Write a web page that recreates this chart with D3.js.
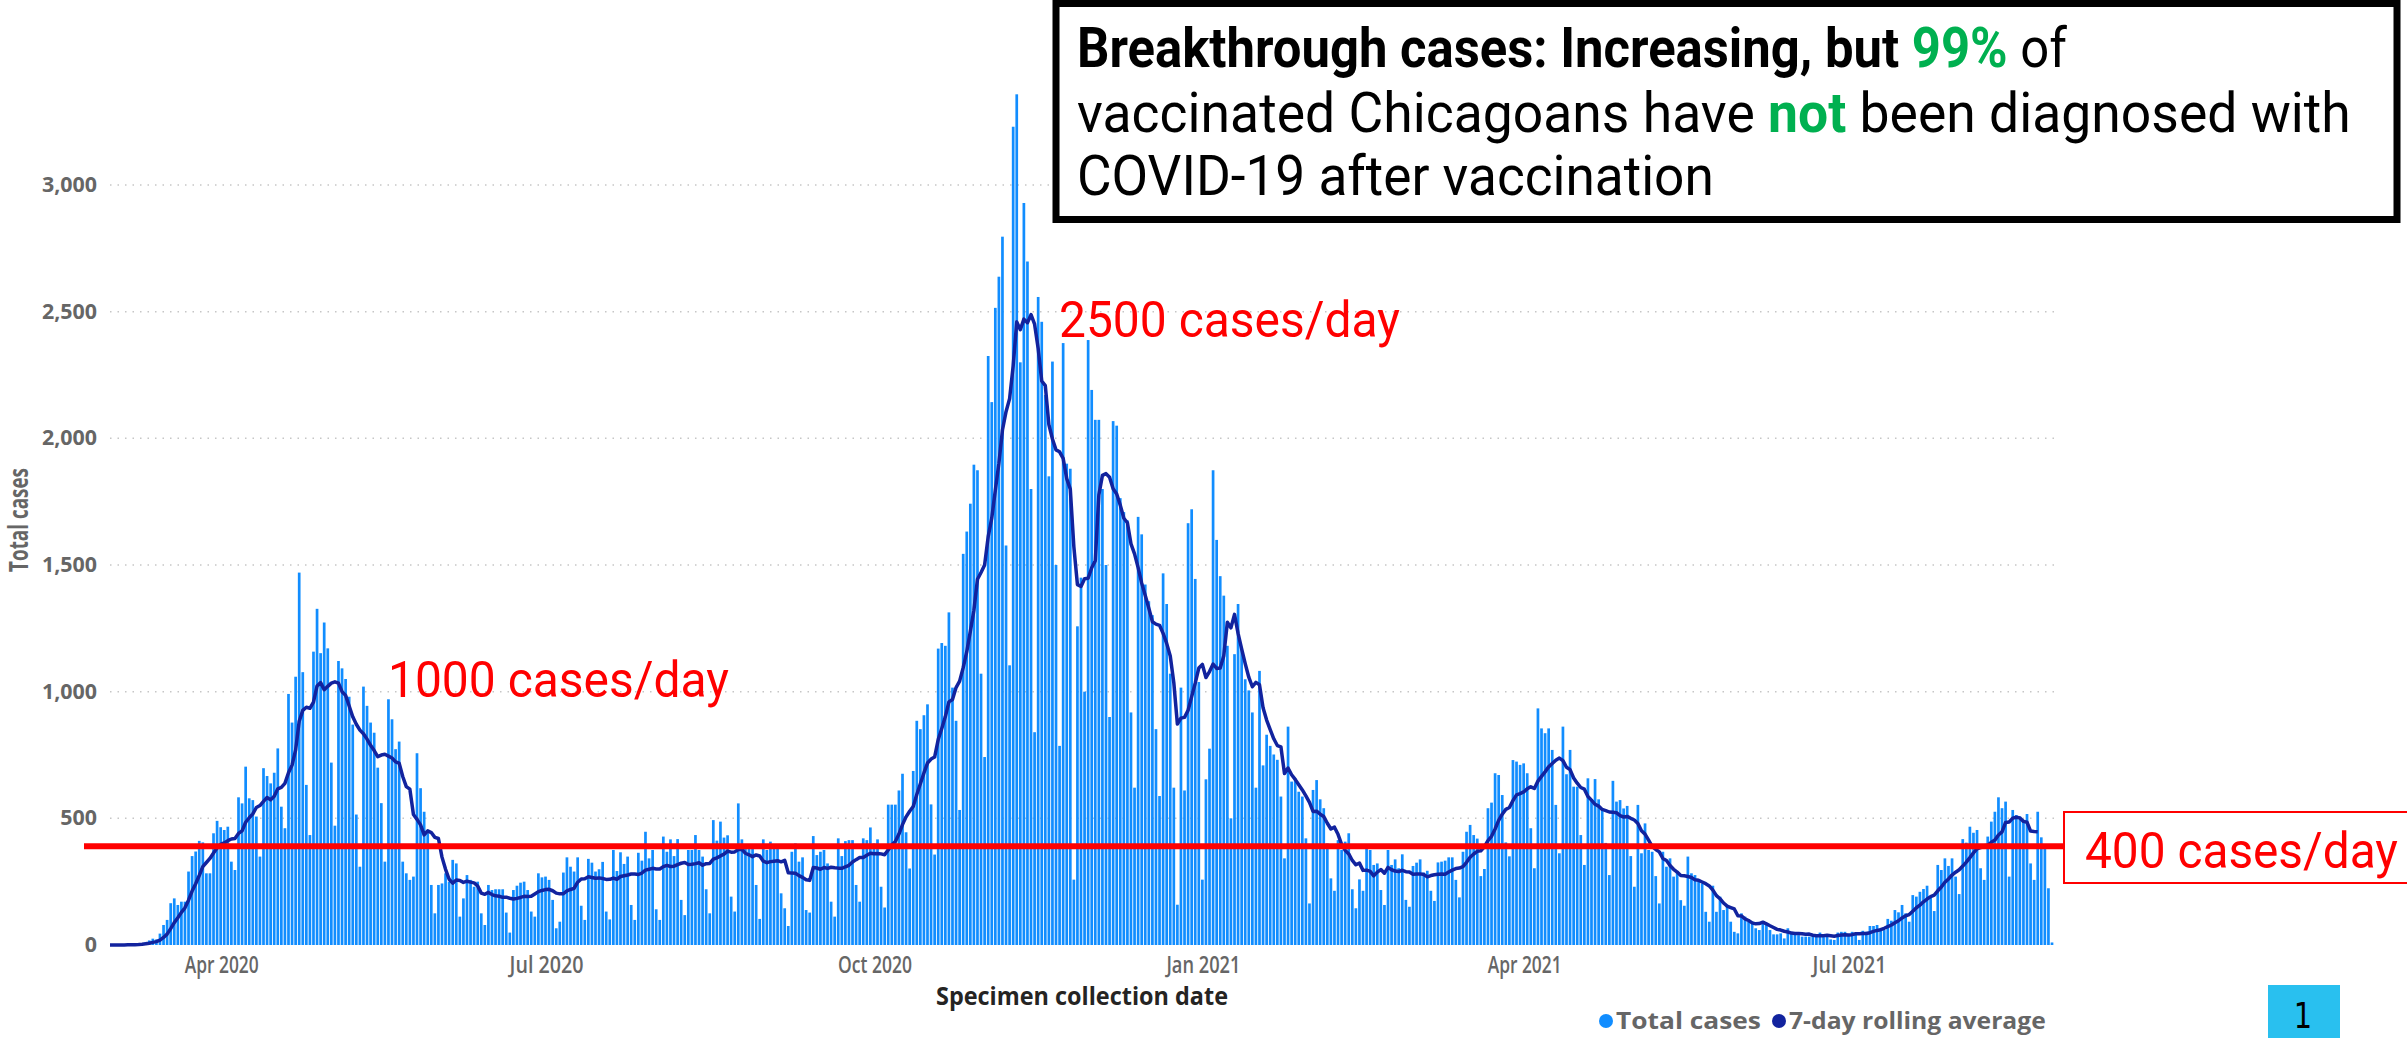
<!DOCTYPE html>
<html>
<head>
<meta charset="utf-8">
<script src="https://cdn.jsdelivr.net/npm/d3@7"></script>
<style>
  body { margin: 0; background: #fff; }
  svg { display: block; }
</style>
</head>
<body>
<svg id="chart" width="2407" height="1038"></svg>
<script>
// daily specimen counts, one row per week (Sun..Sat), first day 2020-03-01
const startDate = "2020-03-01"
const cases2020 = [
  0,0,0,1,1,2,2,
  3,5,8,12,18,25,22,
  45,79,99,165,184,158,171,
  171,290,351,369,411,405,283,
  283,441,490,465,454,467,329,
  296,583,559,704,579,572,507,
  349,698,667,638,680,776,546,
  461,991,878,1059,1470,1077,632,
  434,1158,1327,1152,1273,1171,720,
  471,1121,1092,1050,980,870,515,
  309,1020,944,878,838,700,560,
  329,970,891,773,803,329,283,
  257,270,757,619,526,441,237,
  125,237,243,283,250,336,322,
  112,184,276,257,230,250,125,
  79,237,217,220,220,220,128,
  49,217,234,246,250,217,132,
  112,283,267,270,257,178,66,
  92,286,346,309,290,346,155,
  99,340,325,290,299,328,132,
  101,375,292,366,320,349,158,
  99,364,333,447,342,375,141,
  99,428,368,417,351,418,178,
  118,375,375,434,375,349,220,
  125,493,412,487,424,433,191,
  132,559,417,379,382,382,237,
  103,417,375,408,395,395,204,
  145,75,368,401,329,346,138,
  128,430,355,368,375,322,171,
  112,421,351,410,414,414,237,
  171,421,414,464,401,417,230,
  148,554,554,554,610,676,445,
  302,687,885,852,907,950,555,
  357,1170,1192,1181,1313,1016,885,
  533,1544,1632,1742,1896,1874,1071,
  742,2325,2143,2515,2638,2796,1577,
  1104,3230,3358,2300,2929,2698,1800,
  840,2558,2460,2171,1850,2303,1500,
  786,2376,1900,1880,258,1258,1450,
  1000,2388,2191,2073,2073,1800,1500,
  900,2068,2050,1764,1709,1676,918,
  621,1690,1621,1423,1357,1302,852,
  588,1467,1346,1071,621,159,1016,
  610,1665,1720,1445,1038
]
const cases2021 = [
  258,654,
  775,1874,1599,1456,1379,1181,500,
  1148,1346,1170,1049,1005,918,621,
  1082,709,830,786,752,731,586,
  342,862,645,658,605,586,421,
  164,612,651,575,540,401,263,
  214,414,375,408,441,220,145,
  259,214,382,375,316,322,217,
  158,375,316,338,303,358,178,
  151,312,325,338,286,293,214,
  174,326,329,333,346,346,257,
  188,368,447,474,434,420,272,
  300,540,562,678,671,592,405,
  350,730,724,711,717,678,461,
  303,934,855,836,855,770,553,
  362,862,674,770,625,625,434,
  316,658,575,655,575,533,403,
  276,648,566,572,539,549,351,
  230,553,362,480,375,368,272,
  164,368,309,342,270,290,177,
  155,349,283,276,257,243,131,
  92,234,131,191,138,158,92,
  52,46,125,112,92,92,66,
  59,85,79,59,42,42,46,
  26,66,49,49,39,33,33,
  33,33,35,49,43,42,22,
  20,49,52,52,39,52,46,
  20,56,52,75,75,79,66,
  59,103,96,138,129,158,125,
  92,197,191,210,221,234,191,
  134,316,296,342,312,342,270,
  201,418,404,467,443,454,303,
  257,428,487,526,583,540,566,
  270,533,513,507,487,517,322,
  257,526,425,395,224,10
]
const rollingLastDate = "2021-08-23"
const yTicks = [0, 500, 1000, 1500, 2000, 2500, 3000]
const xTickDates = ["2020-04-01", "2020-07-01", "2020-10-01", "2021-01-01", "2021-04-01", "2021-07-01"]
const legendLabels = ["Total cases", "7-day rolling average"]
const thresholdValue = 390
const calloutLabels = ["1000 cases/day", "2500 cases/day", "400 cases/day"]
const boxLines = [
  [["Breakthrough cases: Increasing, but ", 700, "#000"], ["99%", 700, "#00B050"], [" of", 400, "#000"]],
  [["vaccinated Chicagoans have ", 400, "#000"], ["not", 700, "#00B050"], [" been diagnosed with", 400, "#000"]],
  [["COVID-19 after vaccination", 400, "#000"]]
]
const pageNumber = "1"

const barColor = "#118DFF"
const lineColor = "#12239E"
const axisGray = "#666666"

const svg = d3.select("#chart")
const parse = d3.utcParse("%Y-%m-%d")
const t0 = parse(startDate)
const allCases = cases2020.concat(cases2021)
const days = allCases.map((v, i) => ({ date: d3.utcDay.offset(t0, i), value: v }))

const lastRolling = d3.utcDay.count(t0, parse(rollingLastDate))
const rolling = days.slice(0, lastRolling + 1).map((d, i) => ({
  date: d.date,
  value: d3.mean(allCases.slice(Math.max(0, i - 6), i + 1))
}))

const x = d3.scaleUtc()
  .domain([t0, days[days.length - 1].date])
  .range([110, 2052])
const y = d3.scaleLinear()
  .domain([0, 3000])
  .range([945, 185])

// text helper: squeeze/stretch to a measured width (or a fixed factor)
function addText(parent, parts, o) {
  const t = parent.append("text")
    .attr("text-anchor", o.anchor || "start")
    .style("font-family", o.font)
    .style("font-size", o.size + "px")
    .style("font-weight", o.weight || 400)
    .attr("fill", o.fill || "#000")
  if (typeof parts === "string") {
    t.text(parts)
  } else {
    parts.forEach(p => t.append("tspan").text(p[0]).style("font-weight", p[1]).attr("fill", p[2]))
  }
  const w = t.node().getComputedTextLength()
  const s = o.width ? o.width / w : (o.sx || 1)
  t.attr("transform", "translate(" + o.x + "," + o.y + ")" + (o.rotate ? " rotate(" + o.rotate + ")" : "") + " scale(" + s + ",1)")
  return t
}

// gridlines
svg.append("g")
  .selectAll("line")
  .data(yTicks.filter(d => d > 0))
  .enter().append("line")
  .attr("x1", 110).attr("x2", 2055)
  .attr("y1", d => y(d)).attr("y2", d => y(d))
  .attr("stroke", "#c6c6c6")
  .attr("stroke-width", 1.5)
  .attr("stroke-dasharray", "1.5,6")

// y tick labels
const yg = svg.append("g")
yTicks.forEach(v => {
  addText(yg, d3.format(",")(v), { x: 97, y: y(v) + 7, anchor: "end", font: "'Open Sans'", size: 21, weight: 700, fill: axisGray, sx: 1.02 })
})

// x tick labels
const fmt = d3.utcFormat("%b %Y")
xTickDates.forEach(s => {
  addText(svg, fmt(parse(s)), { x: x(parse(s)) + 1, y: 973, anchor: "middle", font: "'Open Sans'", size: 24, weight: 600, fill: axisGray, width: 74 })
})

// bars
svg.append("g")
  .selectAll("rect")
  .data(days)
  .enter().append("rect")
  .attr("x", d => x(d.date) - 1.35)
  .attr("width", 2.7)
  .attr("y", d => y(d.value))
  .attr("height", d => y(0) - y(d.value))
  .attr("fill", barColor)

// rolling average
svg.append("path")
  .datum(rolling)
  .attr("fill", "none")
  .attr("stroke", lineColor)
  .attr("stroke-width", 3.5)
  .attr("stroke-linejoin", "round")
  .attr("d", d3.line().x(d => x(d.date)).y(d => y(d.value)))

// axis titles
addText(svg, "Total cases", { x: 28, y: 520, rotate: -90, anchor: "middle", font: "'Open Sans'", size: 26, weight: 700, fill: axisGray, width: 104 })
addText(svg, "Specimen collection date", { x: 1082, y: 1005, anchor: "middle", font: "'Open Sans'", size: 25, weight: 700, fill: "#252423", width: 292 })

// legend
const lg = svg.append("g")
lg.append("circle").attr("cx", 1606).attr("cy", 1021).attr("r", 7).attr("fill", barColor)
addText(lg, legendLabels[0], { x: 1616, y: 1029, font: "'Open Sans'", size: 24, weight: 700, fill: axisGray, width: 145 })
lg.append("circle").attr("cx", 1779).attr("cy", 1021).attr("r", 7).attr("fill", lineColor)
addText(lg, legendLabels[1], { x: 1789, y: 1029, font: "'Open Sans'", size: 24, weight: 700, fill: axisGray, width: 257 })

// threshold line and callouts
svg.append("line")
  .attr("x1", 84).attr("x2", 2064)
  .attr("y1", y(thresholdValue)).attr("y2", y(thresholdValue))
  .attr("stroke", "#FF0000").attr("stroke-width", 6)
svg.append("rect")
  .attr("x", 2064).attr("y", 812).attr("width", 360).attr("height", 71)
  .attr("fill", "#fff").attr("stroke", "#FF0000").attr("stroke-width", 2)
addText(svg, calloutLabels[2], { x: 2085, y: 868, font: "Roboto", size: 50, fill: "#FF0000", width: 313 })
addText(svg, calloutLabels[0], { x: 388, y: 697, font: "Roboto", size: 50, fill: "#FF0000", width: 341 })
addText(svg, calloutLabels[1], { x: 1059, y: 337, font: "Roboto", size: 50, fill: "#FF0000", width: 341 })

// headline box
svg.append("rect")
  .attr("x", 1056).attr("y", 3.5).attr("width", 1341).attr("height", 216)
  .attr("fill", "#fff").attr("stroke", "#000").attr("stroke-width", 7)
const lineWidths = [990, 1274, 637]
const lineBase = [67, 132, 195]
boxLines.forEach((parts, i) => {
  addText(svg, parts, { x: 1077, y: lineBase[i], font: "Roboto", size: 55, width: lineWidths[i] })
})

// page marker
svg.append("rect").attr("x", 2268).attr("y", 985).attr("width", 72).attr("height", 60).attr("fill", "#29C0EF")
addText(svg, pageNumber, { x: 2303, y: 1028, anchor: "middle", font: "'DejaVu Sans'", size: 36, fill: "#000", sx: 0.8 })
</script>
</body>
</html>
